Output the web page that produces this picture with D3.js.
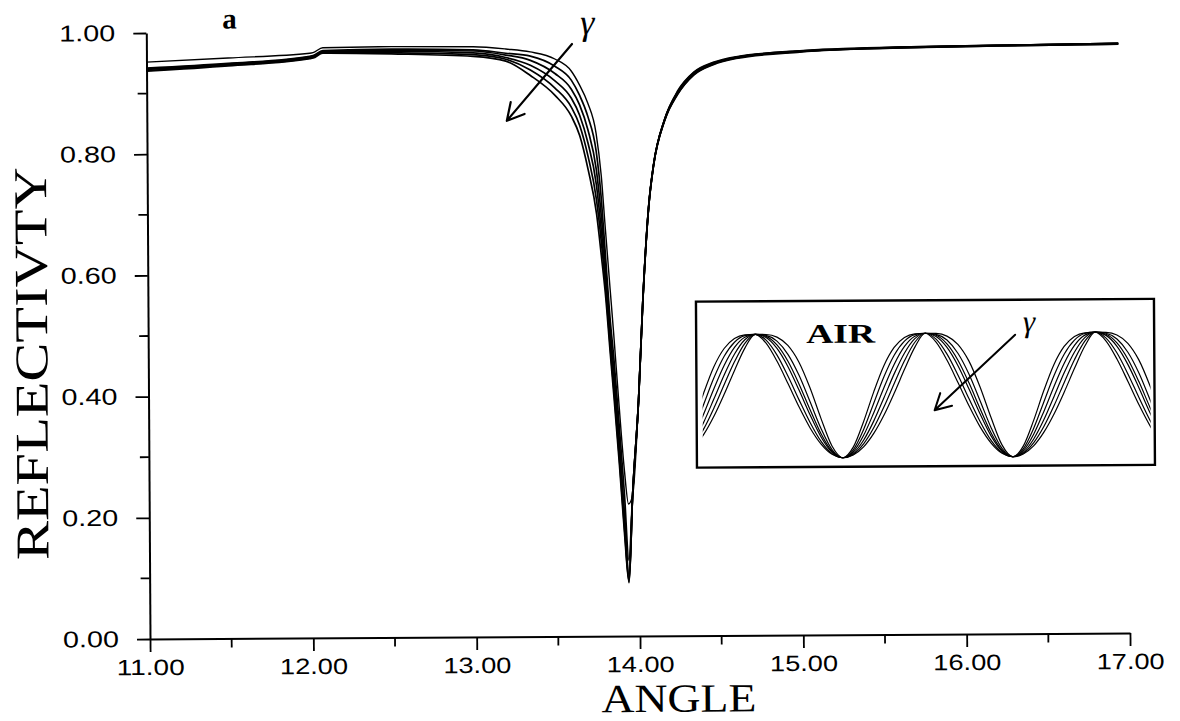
<!DOCTYPE html>
<html>
<head>
<meta charset="utf-8">
<script src="https://cdn.jsdelivr.net/npm/d3@7"></script>
<style>
  html, body { margin: 0; padding: 0; background: #fff; }
  svg { display: block; }
</style>
</head>
<body>
<svg id="chart" width="1180" height="721"></svg>
<script>
// ---- Reflectivity vs. incidence angle, one series per grating shape (gamma) ----
const angles = [11.00, 11.50, 12.00, 12.02, 12.08, 12.50, 13.00, 13.20, 13.35, 13.50,
                13.60, 13.65, 13.70, 13.75, 13.78, 13.80, 13.83, 13.85, 13.88, 13.91,
                13.935, 13.96, 14.00, 14.03, 14.07, 14.10, 14.17, 14.25, 14.35, 14.47,
                14.61, 15.00, 15.60, 16.20, 16.95];

const reflectivityG1 = [0.952, 0.958, 0.965, 0.966, 0.974, 0.975, 0.974, 0.970, 0.965, 0.953,
                        0.933, 0.910, 0.880, 0.830, 0.760, 0.684, 0.573, 0.500, 0.383, 0.276,
                        0.218, 0.232, 0.389, 0.554, 0.712, 0.777, 0.853, 0.899, 0.930, 0.946,
                        0.955, 0.964, 0.969, 0.971, 0.973];
const reflectivityG2 = [0.942, 0.949, 0.960, 0.961, 0.969, 0.971, 0.969, 0.963, 0.958, 0.941,
                        0.918, 0.893, 0.858, 0.800, 0.720, 0.640, 0.520, 0.460, 0.350, 0.235,
                        0.125, 0.232, 0.389, 0.554, 0.712, 0.777, 0.852, 0.897, 0.929, 0.945,
                        0.954, 0.964, 0.969, 0.971, 0.973];
const reflectivityG3 = [0.941, 0.948, 0.959, 0.960, 0.968, 0.969, 0.967, 0.960, 0.951, 0.929,
                        0.903, 0.877, 0.836, 0.770, 0.690, 0.620, 0.500, 0.440, 0.325, 0.200,
                        0.100, 0.232, 0.389, 0.554, 0.711, 0.776, 0.852, 0.896, 0.928, 0.944,
                        0.954, 0.963, 0.969, 0.971, 0.973];
const reflectivityG4 = [0.940, 0.947, 0.958, 0.959, 0.967, 0.967, 0.964, 0.956, 0.943, 0.917,
                        0.888, 0.860, 0.814, 0.745, 0.665, 0.600, 0.485, 0.420, 0.310, 0.185,
                        0.093, 0.232, 0.389, 0.553, 0.711, 0.776, 0.851, 0.895, 0.927, 0.944,
                        0.953, 0.963, 0.968, 0.971, 0.973];
const reflectivityG5 = [0.938, 0.946, 0.957, 0.958, 0.966, 0.965, 0.961, 0.953, 0.935, 0.905,
                        0.873, 0.843, 0.792, 0.720, 0.645, 0.585, 0.472, 0.405, 0.295, 0.175,
                        0.090, 0.232, 0.388, 0.553, 0.710, 0.775, 0.851, 0.894, 0.926, 0.943,
                        0.953, 0.963, 0.968, 0.970, 0.972];
const reflectivityG6 = [0.937, 0.945, 0.956, 0.957, 0.965, 0.963, 0.958, 0.950, 0.926, 0.893,
                        0.858, 0.826, 0.770, 0.697, 0.622, 0.568, 0.462, 0.394, 0.285, 0.166,
                        0.088, 0.232, 0.388, 0.552, 0.710, 0.775, 0.850, 0.893, 0.925, 0.942,
                        0.952, 0.962, 0.968, 0.970, 0.972];
const reflectivitySeries = [reflectivityG1, reflectivityG2, reflectivityG3,
                            reflectivityG4, reflectivityG5, reflectivityG6];

// ---- Axis ticks ----
const xTicks = [11, 12, 13, 14, 15, 16, 17];
const xMinorTicks = [11.5, 12.5, 13.5, 14.5, 15.5, 16.5];
const yTicks = [0, 0.2, 0.4, 0.6, 0.8, 1.0];
const yMinorTicks = [0.1, 0.3, 0.5, 0.7, 0.9];

// ---- Inset: one period of the grating surface profile for each gamma
// phase 0 = crest, 0.512 = trough, 1 = next crest; height 1 = crest, 0 = trough
const profilePhase = [0, 0.064, 0.128, 0.192, 0.256, 0.320, 0.384, 0.448, 0.512,
                      0.573, 0.634, 0.695, 0.756, 0.817, 0.878, 0.939, 1.0];
const profileG1 = [1, 0.928, 0.781, 0.599, 0.411, 0.242, 0.111, 0.028, 0,
                   0.022, 0.087, 0.197, 0.345, 0.522, 0.712, 0.889, 1];
const profileG2 = [1, 0.952, 0.831, 0.660, 0.469, 0.286, 0.133, 0.034, 0,
                   0.028, 0.111, 0.242, 0.411, 0.599, 0.781, 0.928, 1];
const profileG3 = [1, 0.974, 0.885, 0.737, 0.548, 0.348, 0.169, 0.045, 0,
                   0.036, 0.140, 0.296, 0.484, 0.676, 0.842, 0.957, 1];
const profileG4 = [1, 0.983, 0.913, 0.781, 0.598, 0.391, 0.195, 0.053, 0,
                   0.048, 0.178, 0.362, 0.565, 0.752, 0.895, 0.977, 1];
const profileG5 = [1, 0.991, 0.944, 0.837, 0.669, 0.455, 0.237, 0.067, 0,
                   0.063, 0.225, 0.438, 0.651, 0.824, 0.937, 0.990, 1];
const profileG6 = [1, 0.998, 0.976, 0.909, 0.775, 0.568, 0.319, 0.096, 0,
                   0.085, 0.288, 0.528, 0.740, 0.887, 0.967, 0.996, 1];
const profileSeries = [profileG1, profileG2, profileG3, profileG4, profileG5, profileG6];
const insetPeriods = [-1, 0, 1, 2];

// ---- Drawing ----
const svg = d3.select("#chart");
svg.append("rect").attr("width", 1180).attr("height", 721).attr("fill", "#fff");

// the whole sheet sits very slightly askew
const g = svg.append("g").attr("transform", "rotate(-0.35,150,639)");

const x = d3.scaleLinear().domain([11, 17]).range([150, 1130]);
const y = d3.scaleLinear().domain([0, 1]).range([639, 33]);

const tickFont = "'Liberation Sans', Arial, sans-serif";
const serif = "'Liberation Serif', 'Times New Roman', serif";

// x axis
const gx = g.append("g")
  .attr("transform", `translate(0,${y(0)})`)
  .call(d3.axisBottom(x).tickValues(xTicks).tickSize(13).tickSizeOuter(0)
        .tickFormat(d3.format(".2f")));
gx.attr("font-family", tickFont).attr("font-size", 22);
gx.select(".domain").attr("stroke", "#000").attr("stroke-width", 2);
gx.selectAll(".tick line").attr("stroke", "#000").attr("stroke-width", 1.8);
gx.selectAll(".tick text")
  .attr("y", 36).attr("dy", 0).attr("fill", "#000")
  .attr("textLength", 68).attr("lengthAdjust", "spacingAndGlyphs");
gx.selectAll(".minor").data(xMinorTicks).enter().append("line")
  .attr("class", "minor")
  .attr("x1", d => x(d)).attr("x2", d => x(d))
  .attr("y1", 0).attr("y2", 9)
  .attr("stroke", "#000").attr("stroke-width", 1.8);

// y axis
const gy = g.append("g")
  .attr("transform", `translate(${x(11)},0)`)
  .call(d3.axisLeft(y).tickValues(yTicks).tickSize(13).tickSizeOuter(0)
        .tickFormat(d3.format(".2f")));
gy.attr("font-family", tickFont).attr("font-size", 23);
gy.select(".domain").attr("stroke", "#000").attr("stroke-width", 2);
gy.selectAll(".tick line").attr("stroke", "#000").attr("stroke-width", 1.8);
gy.selectAll(".tick text")
  .attr("x", -31).attr("fill", "#000")
  .attr("textLength", 56).attr("lengthAdjust", "spacingAndGlyphs");
gy.selectAll(".minor").data(yMinorTicks).enter().append("line")
  .attr("class", "minor")
  .attr("x1", -9).attr("x2", 0)
  .attr("y1", d => y(d)).attr("y2", d => y(d))
  .attr("stroke", "#000").attr("stroke-width", 1.8);

// axis titles
g.append("text")
  .attr("transform", "translate(49,363) rotate(-90)")
  .attr("text-anchor", "middle")
  .attr("font-family", serif).attr("font-size", 47)
  .attr("textLength", 393).attr("lengthAdjust", "spacingAndGlyphs")
  .text("REFLECTIVTY");
g.append("text")
  .attr("x", 601).attr("y", 715)
  .attr("font-family", serif).attr("font-size", 40)
  .attr("textLength", 155).attr("lengthAdjust", "spacingAndGlyphs")
  .text("ANGLE");

// reflectivity curves
const line = d3.line()
  .x((d, i) => x(angles[i]))
  .y(d => y(d))
  .curve(d3.curveMonotoneX);
g.append("g").selectAll("path").data(reflectivitySeries).enter().append("path")
  .attr("d", d => line(d))
  .attr("fill", "none").attr("stroke", "#000")
  .attr("stroke-width", (d, i) => i === 0 ? 1.4 : 1.7)
  .attr("stroke-linejoin", "round");

// panel letter
g.append("text").attr("x", 226).attr("y", 29)
  .attr("font-family", serif).attr("font-weight", "bold").attr("font-size", 29)
  .text("a");

// arrow helper: shaft plus two barbs at the tip
function arrow(parent, x0, y0, x1, y1, barb, width) {
  const a = Math.atan2(y0 - y1, x0 - x1);
  const spread = 0.5;
  const p = d3.path();
  p.moveTo(x0, y0); p.lineTo(x1, y1);
  p.moveTo(x1 + barb * Math.cos(a + spread), y1 + barb * Math.sin(a + spread));
  p.lineTo(x1, y1);
  p.lineTo(x1 + barb * Math.cos(a - spread), y1 + barb * Math.sin(a - spread));
  parent.append("path").attr("d", p.toString())
    .attr("fill", "none").attr("stroke", "#000").attr("stroke-width", width)
    .attr("stroke-linecap", "round").attr("stroke-linejoin", "round");
}

// gamma annotation on the main plot
arrow(g, x(13.606), y(0.9776), x(13.204), y(0.8515), 19, 2.2);
g.append("text").attr("x", 591).attr("y", 37).attr("text-anchor", "middle")
  .attr("font-family", serif).attr("font-style", "italic").attr("font-size", 36)
  .text("γ");

// ---- Inset with the grating profiles ----
const inset = g.append("g");
inset.append("rect")
  .attr("x", 698).attr("y", 305).attr("width", 458).attr("height", 166)
  .attr("fill", "#fff").attr("stroke", "#000").attr("stroke-width", 2.4);

svg.append("defs").append("clipPath").attr("id", "insetClip")
  .append("rect").attr("x", 704).attr("y", 306).attr("width", 448).attr("height", 164);

const ix = d3.scaleLinear().domain([0, 1]).range([757, 927]);
const iy = d3.scaleLinear().domain([0, 1]).range([462, 338]);
const profileLine = d3.line()
  .x(d => ix(d[0])).y(d => iy(d[1]))
  .curve(d3.curveMonotoneX);

const profilePoints = heights => {
  const pts = [];
  insetPeriods.forEach((k, pi) => {
    profilePhase.forEach((ph, i) => {
      if (i === profilePhase.length - 1 && pi < insetPeriods.length - 1) return;
      pts.push([k + ph, heights[i]]);
    });
  });
  return pts;
};

inset.append("g").attr("clip-path", "url(#insetClip)")
  .selectAll("path").data(profileSeries).enter().append("path")
  .attr("d", d => profileLine(profilePoints(d)))
  .attr("fill", "none").attr("stroke", "#000").attr("stroke-width", 1.2);

inset.append("text").attr("x", 808).attr("y", 347)
  .attr("font-family", serif).attr("font-weight", "bold").attr("font-size", 27)
  .attr("textLength", 69).attr("lengthAdjust", "spacingAndGlyphs")
  .text("AIR");
inset.append("text").attr("x", 1031).attr("y", 337).attr("text-anchor", "middle")
  .attr("font-family", serif).attr("font-style", "italic").attr("font-size", 31)
  .text("γ");
arrow(inset, 1017, 340, 936, 415, 18, 2);
</script>
</body>
</html>
